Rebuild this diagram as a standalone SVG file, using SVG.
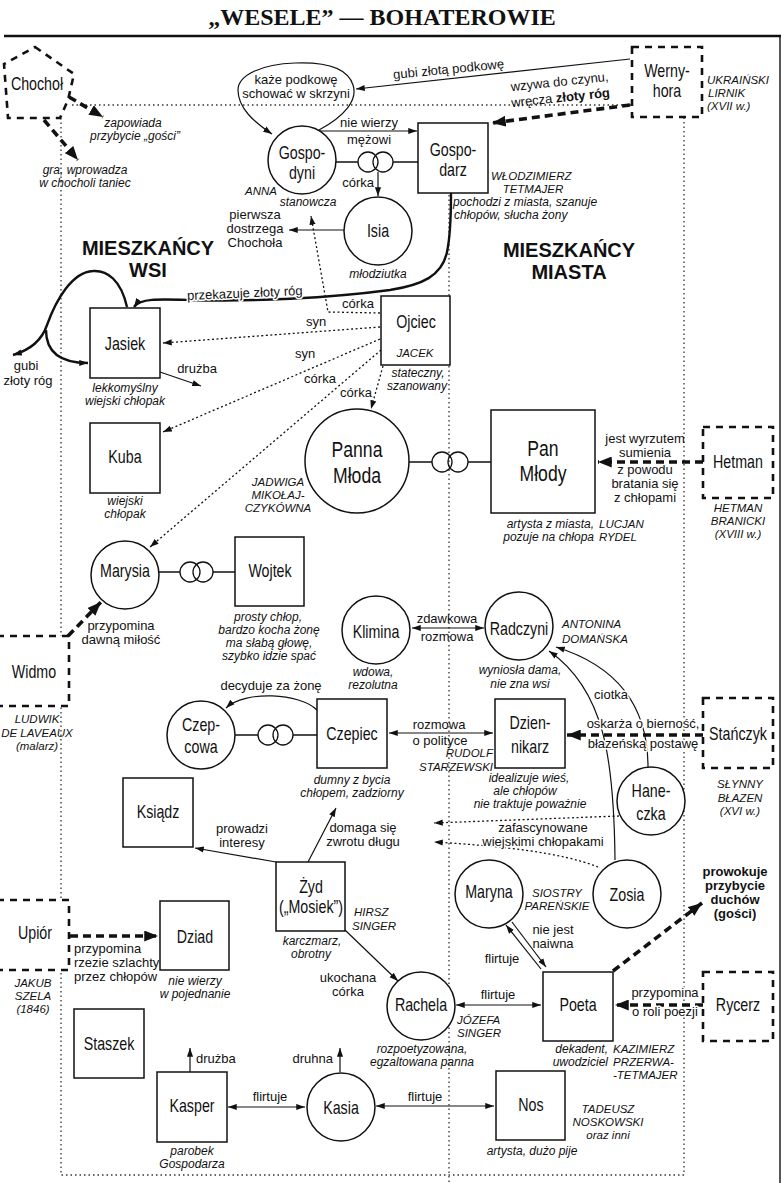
<svg xmlns="http://www.w3.org/2000/svg" width="782" height="1183" viewBox="0 0 782 1183">
<style>
text{font-family:"Liberation Sans",Arial,sans-serif;fill:#111}
.nl{font-size:19px;text-anchor:middle}
.nb{font-size:22px;text-anchor:middle}
.lb{font-size:13px}
.it{font-size:12px;font-style:italic}
.nm{font-size:11.5px;font-style:italic}
.bd{font-size:13px;font-weight:bold}
.c{text-anchor:middle}
.e{text-anchor:end}
.h{paint-order:stroke;stroke:#fff;stroke-width:3px;stroke-linejoin:round}
.n{fill:#fff;stroke:#111;stroke-width:1.5}
.g{fill:#fff;stroke:#111;stroke-width:2.6;stroke-dasharray:7 6}
.ln{fill:none;stroke:#111;stroke-width:1.2}
.dt{fill:none;stroke:#111;stroke-width:1.3;stroke-dasharray:2 2.5}
.th{fill:none;stroke:#111;stroke-width:3.6;stroke-dasharray:8 5}
.tk{fill:none;stroke:#111;stroke-width:2.4}
.rg{fill:none;stroke:#333;stroke-width:1.3;stroke-dasharray:1.5 3}
.ring{fill:none;stroke:#111;stroke-width:1.3}
</style>
<defs>
<marker id="a" viewBox="0 0 10 8" refX="10" refY="4" markerWidth="9" markerHeight="7" markerUnits="userSpaceOnUse" orient="auto-start-reverse"><path d="M0,0.5L10,4L0,7.5z" fill="#111"/></marker>
<marker id="b" viewBox="0 0 10 8" refX="10" refY="4" markerWidth="14" markerHeight="11" markerUnits="userSpaceOnUse" orient="auto"><path d="M0,0L10,4L0,8z" fill="#111"/></marker>
</defs>
<rect width="782" height="1183" fill="#fff"/>
<text x="382" y="25" text-anchor="middle" style="font-family:'Liberation Serif',serif;font-weight:bold;font-size:24px">„WESELE” — BOHATEROWIE</text>
<g id="frame" fill="none" stroke="#111">
<path d="M4,36H781" stroke-width="2.3"/>
<path d="M780,36V1183" stroke-width="1.4"/>
</g>
<g id="regions" class="rg">
<path d="M72,105H632"/>
<path d="M61,118V1175H684V117"/>
<path d="M449,195V1183"/>
</g>
<g id="region-titles" font-weight="bold" font-size="20px" text-anchor="middle">
<text x="148" y="255">MIESZKAŃCY</text><text x="148" y="277">WSI</text>
<text x="569" y="257">MIESZKAŃCY</text><text x="569" y="279">MIASTA</text>
</g>
<g id="connectors">
<path class="ln" d="M630,59L356,89" marker-end="url(#a)"/>
<path class="ln" d="M319,130C345,116 358,100 353,85C347,66 322,62 295,63C262,64 238,75 238,90C238,108 254,122 272,134" marker-end="url(#a)"/>
<path class="th" d="M630,105L492,123" marker-end="url(#b)"/>
<path class="ln" d="M320,131L417,131" marker-end="url(#a)"/>
<path class="ring" d="M336,162H358M393,162H418"/>
<circle class="ring" cx="368" cy="162" r="10"/><circle class="ring" cx="383" cy="162" r="10"/>
<path class="ln" d="M378,172V196" marker-end="url(#a)"/>
<path class="ln" d="M344,230H289" marker-end="url(#a)"/>
<path class="tk" d="M451,193C451,215 450,238 447,252C442,276 422,285 390,290C330,298 250,302 190,300C160,299 140,298 134,307" marker-end="url(#a)"/>
<path class="tk" d="M127,307C121,280 107,270 93,271C72,272 56,300 47,325C42,340 30,350 13,355" marker-end="url(#a)"/>
<path class="tk" d="M46,330C46,350 58,363 88,363" marker-end="url(#a)"/>
<path class="dt" d="M380,313L328,312L311,216" marker-end="url(#a)"/>
<path class="dt" d="M380,327L163,343" marker-end="url(#a)"/>
<path class="dt" d="M380,339L163,432" marker-end="url(#a)"/>
<path class="dt" d="M381,350L150,547" marker-end="url(#a)"/>
<path class="dt" d="M383,366L371,409" marker-end="url(#a)"/>
<path class="ln" d="M160,372L201,386" marker-end="url(#a)"/>
<path class="ring" d="M409,462H432M468,462H491"/>
<circle class="ring" cx="442" cy="462" r="10"/><circle class="ring" cx="458" cy="462" r="10"/>
<path class="th" d="M703,462L598,462" marker-end="url(#b)"/>
<path class="th" d="M68,636L101,602" marker-end="url(#b)"/>
<path class="ring" d="M159,572H180M213,572H235"/>
<circle class="ring" cx="190" cy="572" r="10"/><circle class="ring" cx="203" cy="572" r="10"/>
<path class="ln" d="M412,628H484" marker-start="url(#a)" marker-end="url(#a)"/>
<path class="ln" d="M317,710C300,693 245,690 226,708" marker-end="url(#a)"/>
<path class="ring" d="M235,735H258M293,735H317"/>
<circle class="ring" cx="268" cy="735" r="10"/><circle class="ring" cx="283" cy="735" r="10"/>
<path class="ln" d="M389,733H493" marker-start="url(#a)" marker-end="url(#a)"/>
<path class="th" d="M703,735L567,735" marker-end="url(#b)"/>
<path class="ln" d="M648,767C648,720 630,670 556,647" marker-end="url(#a)"/>
<path class="ln" d="M615,860C614,760 605,690 549,651" marker-end="url(#a)"/>
<path class="dt" d="M619,816L434,823" marker-end="url(#a)"/>
<path class="dt" d="M598,867C560,852 500,846 434,842" marker-end="url(#a)"/>
<path class="ln" d="M276,862L195,848" marker-end="url(#a)"/>
<path class="ln" d="M308,862L336,808" marker-end="url(#a)"/>
<path class="ln" d="M345,930L398,981" marker-end="url(#a)"/>
<path class="ln" d="M456,1005H541" marker-start="url(#a)" marker-end="url(#a)"/>
<path class="ln" d="M541,969L506,925" marker-end="url(#a)"/>
<path class="ln" d="M512,922L546,967" marker-end="url(#a)"/>
<path class="th" d="M703,1005L615,1005" marker-end="url(#b)"/>
<path class="th" d="M613,971L702,903" marker-end="url(#b)"/>
<path class="th" d="M70,936L158,936" marker-end="url(#b)"/>
<path class="ln" d="M190,1072V1048" marker-end="url(#a)"/>
<path class="ln" d="M340,1072V1048" marker-end="url(#a)"/>
<path class="ln" d="M228,1107H305" marker-start="url(#a)" marker-end="url(#a)"/>
<path class="ln" d="M376,1106H494" marker-start="url(#a)" marker-end="url(#a)"/>
<path class="th" d="M69,97L103,117" marker-end="url(#b)"/>
<path class="th" d="M44,120L78,160" marker-end="url(#b)"/>
</g>
<g id="connector-labels">
<text class="lb c" transform="translate(449,73.5) rotate(-5.6)">gubi złotą podkowę</text>
<text class="lb c" x="296" y="84">każe podkowę</text>
<text class="lb c" x="296" y="98">schować w skrzyni</text>
<text class="lb c" transform="translate(560,86) rotate(-6)">wzywa do czynu,</text>
<text class="lb c" transform="translate(561,102) rotate(-6)">wręcza <tspan font-weight="bold">złoty róg</tspan></text>
<text class="lb c" x="369" y="127">nie wierzy</text>
<text class="lb c" x="369" y="144">mężowi</text>
<text class="lb e" x="374" y="187">córka</text>
<text class="lb c" x="255" y="219">pierwsza</text>
<text class="lb c" x="255" y="233">dostrzega</text>
<text class="lb c" x="255" y="247">Chochoła</text>
<text class="lb c h" transform="translate(245,297.5) rotate(-2.5)">przekazuje złoty róg</text>
<text class="lb c" x="26" y="370">gubi</text>
<text class="lb c" x="28" y="385">złoty róg</text>
<text class="lb c" x="358" y="308">córka</text>
<text class="lb c" x="316" y="326">syn</text>
<text class="lb c" x="305" y="358">syn</text>
<text class="lb c" x="320" y="383">córka</text>
<text class="lb c" x="356" y="397">córka</text>
<text class="lb c" x="197" y="373">drużba</text>
<text class="lb c" x="645" y="443">jest wyrzutem</text>
<text class="lb c" x="645" y="457">sumienia</text>
<text class="lb c" x="645" y="474">z powodu</text>
<text class="lb c" x="645" y="488">bratania się</text>
<text class="lb c" x="645" y="502">z chłopami</text>
<text class="lb c" x="121" y="630">przypomina</text>
<text class="lb c" x="121" y="644">dawną miłość</text>
<text class="lb c" x="447" y="623">zdawkowa</text>
<text class="lb c" x="447" y="641">rozmowa</text>
<text class="lb c" x="271" y="690">decyduje za żonę</text>
<text class="lb c" x="439" y="729">rozmowa</text>
<text class="lb c" x="440" y="745">o polityce</text>
<text class="lb c h" x="643" y="728">oskarża o bierność,</text>
<text class="lb c h" x="643" y="748">błazeńską postawę</text>
<text class="lb c h" x="611" y="699">ciotka</text>
<text class="lb c" x="543" y="832">zafascynowane</text>
<text class="lb c h" x="543" y="846">wiejskimi chłopakami</text>
<text class="lb c" x="242" y="833">prowadzi</text>
<text class="lb c" x="242" y="847">interesy</text>
<text class="lb c" x="363" y="832">domaga się</text>
<text class="lb c" x="363" y="846">zwrotu długu</text>
<text class="lb c" x="348" y="982">ukochana</text>
<text class="lb c" x="348" y="996">córka</text>
<text class="lb c" x="498" y="999">flirtuje</text>
<text class="lb c" x="553" y="934">nie jest</text>
<text class="lb c" x="553" y="948">naiwna</text>
<text class="lb c" x="502" y="963">flirtuje</text>
<text class="lb c h" x="665" y="997">przypomina</text>
<text class="lb c h" x="665" y="1016">o roli poezji</text>
<text class="bd c" x="735" y="876">prowokuje</text>
<text class="bd c" x="735" y="890">przybycie</text>
<text class="bd c" x="735" y="904">duchów</text>
<text class="bd c" x="735" y="918">(gości)</text>
<text class="lb" x="74" y="953">przypomina</text>
<text class="lb" x="74" y="967">rzezie szlachty</text>
<text class="lb" x="74" y="981">przez chłopów</text>
<text class="lb" x="196" y="1063">drużba</text>
<text class="lb e" x="333" y="1063">druhna</text>
<text class="lb c" x="270" y="1101">flirtuje</text>
<text class="lb c" x="425" y="1101">flirtuje</text>
<text class="it c" x="133" y="127">zapowiada</text>
<text class="it c" x="135" y="140">przybycie „gości”</text>
<text class="it c" x="85" y="174">gra, wprowadza</text>
<text class="it c" x="85" y="187">w chocholi taniec</text>
</g>
<g id="chochol"><path class="g" d="M35,47L74,74L68,100L60,118L8,118L4,64Z"/><text class="nl" transform="translate(37,90) scale(.75 1)">Chochoł</text></g>
<g id="wernyhora"><rect class="g" x="632" y="47" width="70" height="70"/><text class="nl" transform="translate(667,77) scale(.75 1)">Werny-</text><text class="nl" transform="translate(667,97) scale(.75 1)">hora</text><text class="nm" x="707" y="84">UKRAIŃSKI</text><text class="nm" x="708" y="97">LIRNIK</text><text class="nm" x="707" y="110">(XVII w.)</text></g>
<g id="gospodyni"><circle class="n" cx="302" cy="160" r="34"/><text class="nl" transform="translate(302,159) scale(.75 1)">Gospo-</text><text class="nl" transform="translate(302,179) scale(.75 1)">dyni</text><text class="nm c" x="261" y="195">ANNA</text><text class="it c" x="308" y="206">stanowcza</text></g>
<g id="gospodarz"><rect class="n" x="418" y="123" width="70" height="70"/><text class="nl" transform="translate(453,156) scale(.75 1)">Gospo-</text><text class="nl" transform="translate(453,176) scale(.75 1)">darz</text><text class="nm" x="491" y="180">WŁODZIMIERZ</text><text class="nm c" x="533" y="192.5">TETMAJER</text><text class="it" x="453" y="205.5">pochodzi z miasta, szanuje</text><text class="it" x="454" y="218.5">chłopów, słucha żony</text></g>
<g id="isia"><circle class="n" cx="378" cy="231" r="34"/><text class="nl" transform="translate(378,237) scale(.75 1)">Isia</text><text class="it c" x="378" y="278">młodziutka</text></g>
<g id="jasiek"><rect class="n" x="90" y="308" width="70" height="70"/><text class="nl" transform="translate(125,350) scale(.75 1)">Jasiek</text><text class="it c" x="125" y="392">lekkomyślny</text><text class="it c" x="125" y="405">wiejski chłopak</text></g>
<g id="ojciec"><rect class="n" x="381" y="296" width="69" height="69"/><text class="nl" transform="translate(416,328) scale(.75 1)">Ojciec</text><text class="nm c" x="415" y="357">JACEK</text><text class="it c" x="418" y="377">stateczny,</text><text class="it c" x="417" y="390">szanowany</text></g>
<g id="kuba"><rect class="n" x="90" y="423" width="70" height="70"/><text class="nl" transform="translate(125,463) scale(.75 1)">Kuba</text><text class="it c" x="125" y="505">wiejski</text><text class="it c" x="125" y="518">chłopak</text></g>
<g id="panna-mloda"><circle class="n" cx="357" cy="461" r="52"/><text class="nb" transform="translate(357,457) scale(.8 1)">Panna</text><text class="nb" transform="translate(357,483) scale(.8 1)">Młoda</text><text class="nm c" x="278" y="486">JADWIGA</text><text class="nm c" x="278" y="499">MIKOŁAJ-</text><text class="nm c" x="278" y="512">CZYKÓWNA</text></g>
<g id="pan-mlody"><rect class="n" x="491" y="410" width="104" height="103"/><text class="nb" transform="translate(543,456) scale(.8 1)">Pan</text><text class="nb" transform="translate(543,481) scale(.8 1)">Młody</text><text class="it e" x="594" y="528">artysta z miasta,</text><text class="it e" x="594" y="541">pozuje na chłopa</text><text class="nm" x="599" y="528">LUCJAN</text><text class="nm" x="599" y="541">RYDEL</text></g>
<g id="hetman"><rect class="g" x="703" y="427" width="70" height="71"/><text class="nl" transform="translate(738,468) scale(.75 1)">Hetman</text><text class="nm c" x="738" y="512">HETMAN</text><text class="nm c" x="738" y="525">BRANICKI</text><text class="nm c" x="738" y="538">(XVIII w.)</text></g>
<g id="marysia"><circle class="n" cx="125" cy="575" r="34"/><text class="nl" transform="translate(125,577) scale(.75 1)">Marysia</text></g>
<g id="wojtek"><rect class="n" x="235" y="537" width="69" height="69"/><text class="nl" transform="translate(270,577) scale(.75 1)">Wojtek</text><text class="it c" x="268" y="621">prosty chłop,</text><text class="it c" x="269" y="634">bardzo kocha żonę</text><text class="it c" x="269" y="647">ma słabą głowę,</text><text class="it c" x="269" y="660">szybko idzie spać</text></g>
<g id="widmo"><rect class="g" x="-3" y="636" width="72" height="70"/><text class="nl" transform="translate(34,678) scale(.75 1)">Widmo</text><text class="nm c" x="37" y="723">LUDWIK</text><text class="nm c" x="37" y="737">DE LAVEAUX</text><text class="nm c" x="37" y="750">(malarz)</text></g>
<g id="klimina"><circle class="n" cx="376" cy="630" r="34"/><text class="nl" transform="translate(376,638) scale(.75 1)">Klimina</text><text class="it c" x="373" y="676">wdowa,</text><text class="it c" x="373" y="689">rezolutna</text></g>
<g id="radczyni"><circle class="n" cx="519" cy="626" r="34"/><text class="nl" transform="translate(519,635) scale(.75 1)">Radczyni</text><text class="nm" x="562" y="628">ANTONINA</text><text class="nm" x="562" y="643">DOMAŃSKA</text><text class="it c" x="520" y="674">wyniosła dama,</text><text class="it c" x="520" y="688">nie zna wsi</text></g>
<g id="czepcowa"><circle class="n" cx="201" cy="735" r="34"/><text class="nl" transform="translate(201,731) scale(.75 1)">Czep-</text><text class="nl" transform="translate(201,753) scale(.75 1)">cowa</text></g>
<g id="czepiec"><rect class="n" x="317" y="699" width="70" height="69"/><text class="nl" transform="translate(352,740) scale(.75 1)">Czepiec</text><text class="it c" x="352" y="784">dumny z bycia</text><text class="it c" x="352" y="797">chłopem, zadziorny</text></g>
<g id="dziennikarz"><rect class="n" x="495" y="699" width="70" height="69"/><text class="nl" transform="translate(530,729) scale(.75 1)">Dzien-</text><text class="nl" transform="translate(530,753) scale(.75 1)">nikarz</text><text class="nm e" x="493" y="757">RUDOLF</text><text class="nm e" x="493" y="771">STARZEWSKI</text><text class="it c" x="529" y="782">idealizuje wieś,</text><text class="it c" x="525" y="795">ale chłopów</text><text class="it c" x="530" y="808">nie traktuje poważnie</text></g>
<g id="stanczyk"><rect class="g" x="703" y="698" width="70" height="70"/><text class="nl" transform="translate(738,740) scale(.75 1)">Stańczyk</text><text class="nm c" x="740" y="788">SŁYNNY</text><text class="nm c" x="740" y="802">BŁAZEN</text><text class="nm c" x="740" y="815">(XVI w.)</text></g>
<g id="haneczka"><circle class="n" cx="651" cy="801" r="34"/><text class="nl" transform="translate(651,797) scale(.75 1)">Hane-</text><text class="nl" transform="translate(651,820) scale(.75 1)">czka</text></g>
<g id="ksiadz"><rect class="n" x="123" y="778" width="70" height="69"/><text class="nl" transform="translate(158,818) scale(.75 1)">Ksiądz</text></g>
<g id="zyd"><rect class="n" x="276" y="862" width="69" height="69"/><text class="nl" transform="translate(311,893) scale(.75 1)">Żyd</text><text class="nl" transform="translate(311,913) scale(.75 1)">(„Mosiek”)</text><text class="nm" x="354" y="916">HIRSZ</text><text class="nm" x="352" y="930">SINGER</text><text class="it c" x="312" y="945">karczmarz,</text><text class="it c" x="311" y="958">obrotny</text></g>
<g id="maryna"><circle class="n" cx="489" cy="894" r="34"/><text class="nl" transform="translate(489,898) scale(.75 1)">Maryna</text><text class="nm c" x="557" y="897">SIOSTRY</text><text class="nm c" x="557" y="910">PAREŃSKIE</text></g>
<g id="zosia"><circle class="n" cx="627" cy="894" r="34"/><text class="nl" transform="translate(627,901) scale(.75 1)">Zosia</text></g>
<g id="upior"><rect class="g" x="-3" y="900" width="72" height="70"/><text class="nl" transform="translate(35,939) scale(.75 1)">Upiór</text><text class="nm c" x="33" y="987">JAKUB</text><text class="nm c" x="33" y="1000">SZELA</text><text class="nm c" x="33" y="1013">(1846)</text></g>
<g id="dziad"><rect class="n" x="160" y="901" width="69" height="69"/><text class="nl" transform="translate(195,943) scale(.75 1)">Dziad</text><text class="it c" x="195" y="985">nie wierzy</text><text class="it c" x="195" y="998">w pojednanie</text></g>
<g id="rachela"><circle class="n" cx="421" cy="1006" r="34"/><text class="nl" transform="translate(421,1011) scale(.75 1)">Rachela</text><text class="nm" x="457" y="1024">JÓZEFA</text><text class="nm" x="457" y="1037">SINGER</text><text class="it c" x="422" y="1053">rozpoetyzowana,</text><text class="it c" x="422" y="1066">egzaltowana panna</text></g>
<g id="poeta"><rect class="n" x="543" y="972" width="70" height="69"/><text class="nl" transform="translate(578,1011) scale(.75 1)">Poeta</text><text class="it e" x="608" y="1053">dekadent,</text><text class="it e" x="608" y="1066">uwodziciel</text><text class="nm" x="613" y="1053">KAZIMIERZ</text><text class="nm" x="613" y="1066">PRZERWA-</text><text class="nm" x="613" y="1079">-TETMAJER</text></g>
<g id="rycerz"><rect class="g" x="703" y="972" width="70" height="69"/><text class="nl" transform="translate(738,1011) scale(.75 1)">Rycerz</text></g>
<g id="staszek"><rect class="n" x="74" y="1009" width="70" height="69"/><text class="nl" transform="translate(109,1050) scale(.75 1)">Staszek</text></g>
<g id="kasper"><rect class="n" x="157" y="1072" width="70" height="70"/><text class="nl" transform="translate(192,1112) scale(.75 1)">Kasper</text><text class="it c" x="192" y="1155">parobek</text><text class="it c" x="192" y="1168">Gospodarza</text></g>
<g id="kasia"><circle class="n" cx="341" cy="1107" r="34"/><text class="nl" transform="translate(341,1114) scale(.75 1)">Kasia</text></g>
<g id="nos"><rect class="n" x="496" y="1071" width="69" height="69"/><text class="nl" transform="translate(531,1111) scale(.75 1)">Nos</text><text class="nm c" x="608" y="1113">TADEUSZ</text><text class="nm c" x="608" y="1126">NOSKOWSKI</text><text class="nm c" x="608" y="1139">oraz inni</text><text class="it c" x="532" y="1155">artysta, dużo pije</text></g>
</svg>
